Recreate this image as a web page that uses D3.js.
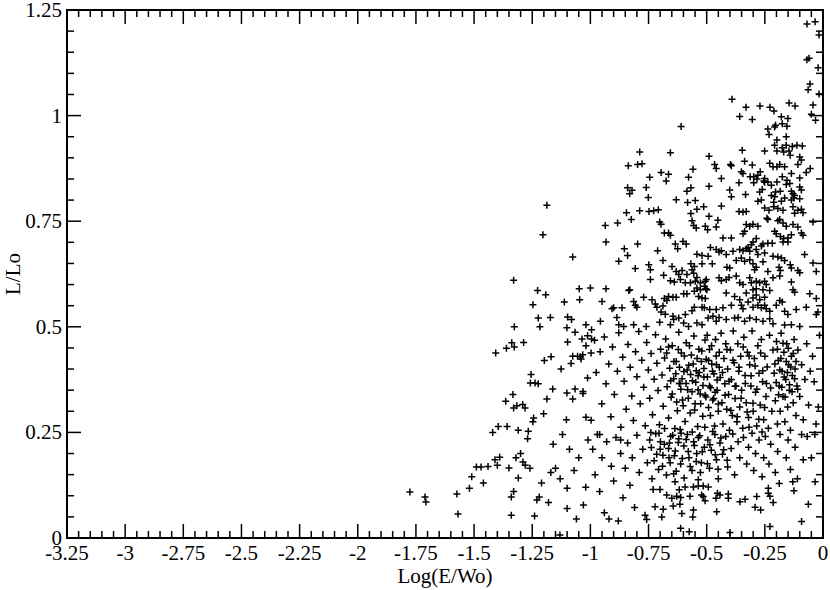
<!DOCTYPE html>
<html>
<head>
<meta charset="utf-8">
<script src="https://cdn.jsdelivr.net/npm/d3@7"></script>
<style>
  body { margin: 0; background: #fff; }
  svg { display: block; }
  text { font-family: "Liberation Serif", "Times New Roman", serif; fill: #000; }
</style>
</head>
<body>
<div id="chart"></div>
<script>
// x: Log(E/Wo), y: L/Lo, grouped by area
var topRight = [[-0.069,1.217],[-0.034,1.222],[-0.017,1.191],[-0.060,1.136],[-0.069,1.132],[-0.021,1.113],[-0.056,1.075],[-0.064,1.061],[-0.017,1.051],[-0.391,1.039],[-0.331,1.020],[-0.271,1.023],[-0.228,1.020],[-0.211,1.011],[-0.146,1.030],[-0.120,1.023],[-0.043,1.025]];

var upperMid = [[-0.610,0.974],[-0.788,0.914],[-0.656,0.912],[-0.837,0.881],[-0.797,0.884],[-0.778,0.886],[-0.559,0.873],[-0.696,0.865],[-0.664,0.861],[-0.745,0.854],[-0.578,0.854],[-0.674,0.845],[-0.840,0.829],[-0.821,0.823],[-0.831,0.815],[-0.760,0.830],[-0.568,0.829],[-0.585,0.821],[-0.751,0.806],[-0.631,0.801],[-0.582,0.794],[-0.549,0.799],[-0.845,0.770],[-0.788,0.775],[-0.748,0.773],[-0.728,0.775],[-0.708,0.777],[-0.824,0.754],[-0.542,0.778],[-0.513,0.784],[-0.568,0.768],[-1.187,0.788]];

var upperRight = [[-0.358,0.998],[-0.304,0.991],[-0.179,0.997],[-0.151,0.993],[-0.050,1.003],[-0.032,0.989],[-0.204,0.977],[-0.175,0.981],[-0.208,0.973],[-0.155,0.975],[-0.237,0.968],[-0.232,0.955],[-0.158,0.950],[-0.198,0.942],[-0.208,0.930],[-0.175,0.924],[-0.158,0.930],[-0.132,0.927],[-0.112,0.930],[-0.089,0.928],[-0.251,0.916],[-0.347,0.918],[-0.198,0.916],[-0.169,0.914],[-0.146,0.916],[-0.141,0.906],[-0.490,0.904],[-0.100,0.902],[-0.466,0.884],[-0.459,0.875],[-0.398,0.884],[-0.394,0.881],[-0.337,0.892],[-0.304,0.883],[-0.229,0.887],[-0.215,0.879],[-0.198,0.879],[-0.165,0.879],[-0.186,0.884],[-0.108,0.884],[-0.093,0.895],[-0.055,0.875],[-0.072,0.865],[-0.351,0.867],[-0.344,0.863],[-0.313,0.855],[-0.298,0.855],[-0.280,0.859],[-0.284,0.850],[-0.270,0.867],[-0.251,0.851],[-0.251,0.842],[-0.237,0.843],[-0.198,0.843],[-0.175,0.855],[-0.155,0.847],[-0.136,0.863],[-0.100,0.852],[-0.437,0.851],[-0.490,0.833],[-0.361,0.841],[-0.298,0.841],[-0.254,0.845],[-0.222,0.835],[-0.401,0.824],[-0.394,0.808],[-0.333,0.813],[-0.272,0.819],[-0.261,0.825],[-0.222,0.811],[-0.208,0.808],[-0.204,0.819],[-0.184,0.821],[-0.158,0.837],[-0.143,0.839],[-0.136,0.821],[-0.129,0.815],[-0.122,0.811],[-0.100,0.831],[-0.093,0.824],[-0.280,0.797],[-0.265,0.800],[-0.212,0.795],[-0.179,0.797],[-0.165,0.805],[-0.136,0.800],[-0.126,0.805],[-0.100,0.803],[-0.437,0.786],[-0.361,0.773],[-0.344,0.772],[-0.330,0.773],[-0.251,0.781],[-0.232,0.776],[-0.212,0.784],[-0.194,0.780],[-0.172,0.776],[-0.129,0.784],[-0.108,0.776],[-0.093,0.778],[-0.086,0.770],[-0.122,0.769],[-0.490,0.762],[-0.452,0.752],[-0.241,0.757],[-0.186,0.754]];

var midLeft = [[-1.204,0.718],[-1.076,0.665],[-1.330,0.610],[-1.227,0.586],[-1.192,0.576],[-1.048,0.590],[-1.000,0.592],[-1.247,0.552],[-1.112,0.559],[-1.046,0.564],[-1.224,0.521],[-1.172,0.522],[-1.098,0.523],[-1.081,0.517],[-1.019,0.505]];

var midCentre = [[-0.936,0.740],[-0.883,0.746],[-0.702,0.748],[-0.696,0.743],[-0.563,0.751],[-0.556,0.740],[-0.545,0.734],[-0.506,0.738],[-0.496,0.730],[-0.682,0.722],[-0.664,0.722],[-0.656,0.717],[-0.933,0.701],[-0.797,0.696],[-0.635,0.696],[-0.602,0.702],[-0.588,0.696],[-0.625,0.685],[-0.854,0.685],[-0.840,0.669],[-0.711,0.680],[-0.542,0.672],[-0.520,0.669],[-0.878,0.655],[-0.807,0.638],[-0.749,0.647],[-0.742,0.635],[-0.688,0.657],[-0.649,0.643],[-0.568,0.649],[-0.553,0.643],[-0.520,0.649],[-0.563,0.635],[-0.631,0.631],[-0.606,0.633],[-0.620,0.624],[-0.585,0.624],[-0.556,0.627],[-0.542,0.617],[-0.656,0.609],[-0.742,0.612],[-0.685,0.622],[-0.639,0.606],[-0.613,0.612],[-0.592,0.604],[-0.570,0.604],[-0.549,0.608],[-0.527,0.604],[-0.506,0.608],[-0.933,0.590],[-0.831,0.588],[-0.835,0.586],[-0.542,0.592],[-0.527,0.588],[-0.510,0.596],[-0.499,0.588],[-0.631,0.570],[-0.599,0.578],[-0.585,0.578],[-0.553,0.584],[-0.535,0.572],[-0.520,0.568],[-0.506,0.567],[-0.771,0.570],[-0.735,0.564],[-0.682,0.567],[-0.664,0.572],[-0.671,0.562],[-0.645,0.570],[-0.814,0.560],[-0.807,0.551],[-0.800,0.546],[-0.721,0.554],[-0.714,0.546],[-0.688,0.549],[-0.950,0.560],[-0.907,0.543],[-0.900,0.545],[-0.864,0.545],[-0.696,0.535],[-0.678,0.530],[-0.645,0.525],[-0.620,0.521],[-0.592,0.529],[-0.553,0.546],[-0.520,0.546],[-0.510,0.545],[-0.563,0.538],[-0.886,0.522],[-0.878,0.505],[-0.957,0.513],[-0.857,0.501],[-0.814,0.505],[-0.760,0.501],[-0.702,0.511],[-0.656,0.505],[-0.599,0.509],[-0.578,0.501],[-0.542,0.509],[-0.520,0.505],[-0.642,0.517]];

var midRight = [[-0.459,0.736],[-0.330,0.742],[-0.315,0.738],[-0.301,0.743],[-0.280,0.738],[-0.337,0.726],[-0.344,0.720],[-0.237,0.754],[-0.194,0.751],[-0.172,0.746],[-0.158,0.738],[-0.129,0.742],[-0.108,0.736],[-0.093,0.722],[-0.086,0.717],[-0.043,0.748],[-0.208,0.726],[-0.201,0.720],[-0.183,0.714],[-0.169,0.709],[-0.151,0.710],[-0.136,0.718],[-0.151,0.701],[-0.172,0.701],[-0.218,0.698],[-0.237,0.698],[-0.258,0.696],[-0.287,0.709],[-0.301,0.701],[-0.308,0.694],[-0.322,0.688],[-0.430,0.710],[-0.394,0.710],[-0.484,0.688],[-0.459,0.683],[-0.437,0.680],[-0.447,0.677],[-0.416,0.671],[-0.387,0.679],[-0.358,0.683],[-0.344,0.680],[-0.330,0.685],[-0.315,0.679],[-0.287,0.683],[-0.265,0.691],[-0.251,0.675],[-0.280,0.671],[-0.494,0.667],[-0.476,0.649],[-0.413,0.641],[-0.401,0.639],[-0.373,0.657],[-0.351,0.663],[-0.337,0.655],[-0.315,0.659],[-0.301,0.649],[-0.287,0.641],[-0.258,0.654],[-0.215,0.667],[-0.194,0.665],[-0.179,0.663],[-0.165,0.657],[-0.189,0.641],[-0.183,0.633],[-0.141,0.647],[-0.136,0.639],[-0.108,0.633],[-0.100,0.628],[-0.043,0.651],[-0.029,0.631],[-0.079,0.671],[-0.237,0.631],[-0.294,0.635],[-0.502,0.612],[-0.447,0.616],[-0.437,0.609],[-0.416,0.612],[-0.404,0.617],[-0.373,0.620],[-0.358,0.604],[-0.344,0.600],[-0.315,0.616],[-0.308,0.604],[-0.287,0.608],[-0.272,0.604],[-0.251,0.608],[-0.244,0.600],[-0.215,0.616],[-0.186,0.620],[-0.136,0.606],[-0.301,0.588],[-0.287,0.590],[-0.258,0.588],[-0.504,0.590],[-0.416,0.580],[-0.380,0.572],[-0.358,0.564],[-0.330,0.580],[-0.322,0.559],[-0.301,0.568],[-0.287,0.575],[-0.272,0.564],[-0.251,0.570],[-0.229,0.586],[-0.186,0.562],[-0.175,0.559],[-0.129,0.588],[-0.122,0.582],[-0.057,0.578],[-0.029,0.567],[-0.394,0.551],[-0.487,0.541],[-0.459,0.541],[-0.430,0.545],[-0.351,0.551],[-0.344,0.543],[-0.301,0.546],[-0.280,0.551],[-0.265,0.545],[-0.251,0.551],[-0.244,0.543],[-0.229,0.537],[-0.201,0.551],[-0.165,0.537],[-0.151,0.529],[-0.115,0.541],[-0.072,0.546],[-0.029,0.529],[-0.022,0.535],[-0.494,0.521],[-0.473,0.525],[-0.447,0.522],[-0.459,0.513],[-0.416,0.517],[-0.380,0.521],[-0.365,0.522],[-0.337,0.513],[-0.315,0.521],[-0.287,0.517],[-0.258,0.513],[-0.229,0.519],[-0.215,0.507],[-0.165,0.504],[-0.100,0.501],[-0.136,0.505]];

var lowLeft = [[-1.327,0.500],[-1.217,0.500],[-1.101,0.498],[-1.066,0.487],[-0.995,0.493],[-1.012,0.479],[-1.036,0.471],[-0.995,0.471],[-1.098,0.464],[-1.019,0.455],[-0.997,0.438],[-1.338,0.462],[-1.327,0.452],[-1.361,0.449],[-1.287,0.463],[-1.407,0.438],[-1.198,0.420],[-1.169,0.429],[-1.076,0.430],[-1.055,0.430],[-1.043,0.429],[-1.033,0.434],[-1.040,0.424],[-1.083,0.413],[-1.126,0.400],[-1.255,0.387],[-1.258,0.367],[-1.238,0.367],[-1.224,0.365],[-1.012,0.379],[-1.162,0.353],[-1.101,0.343],[-1.066,0.353],[-1.032,0.347],[-1.032,0.342],[-1.076,0.329],[-1.333,0.340],[-1.364,0.324],[-1.187,0.329],[-1.330,0.308],[-1.316,0.313],[-1.291,0.316],[-1.281,0.308],[-1.201,0.294],[-1.244,0.284],[-1.247,0.275],[-1.103,0.280],[-1.019,0.286],[-0.997,0.279],[-1.396,0.264],[-1.358,0.264],[-1.310,0.255],[-1.267,0.253]];

var lowCentre = [[-0.982,0.468],[-0.975,0.392],[-0.958,0.441],[-0.951,0.318],[-0.940,0.476],[-0.933,0.365],[-0.921,0.412],[-0.912,0.287],[-0.905,0.452],[-0.897,0.340],[-0.884,0.395],[-0.878,0.486],[-0.869,0.262],[-0.861,0.428],[-0.855,0.371],[-0.846,0.305],[-0.838,0.458],[-0.829,0.404],[-0.822,0.336],[-0.815,0.278],[-0.806,0.441],[-0.800,0.382],[-0.792,0.489],[-0.786,0.318],[-0.779,0.421],[-0.771,0.357],[-0.764,0.266],[-0.758,0.463],[-0.751,0.398],[-0.745,0.331],[-0.739,0.437],[-0.733,0.292],[-0.726,0.376],[-0.720,0.481],[-0.714,0.414],[-0.709,0.349],[-0.703,0.268],[-0.698,0.447],[-0.692,0.386],[-0.687,0.312],[-0.681,0.426],[-0.676,0.471],[-0.670,0.358],[-0.664,0.284],[-0.659,0.402],[-0.653,0.333],[-0.648,0.455],[-0.642,0.377],[-0.637,0.259],[-0.631,0.418],[-0.626,0.301],[-0.620,0.487],[-0.615,0.366],[-0.609,0.438],[-0.604,0.327],[-0.598,0.394],[-0.593,0.276],[-0.588,0.462],[-0.582,0.351],[-0.577,0.409],[-0.571,0.296],[-0.566,0.433],[-0.561,0.372],[-0.555,0.478],[-0.550,0.318],[-0.545,0.396],[-0.539,0.264],[-0.534,0.447],[-0.528,0.341],[-0.523,0.418],[-0.517,0.288],[-0.512,0.381],[-0.507,0.469],[-0.503,0.334]];

var lowRight = [[-0.498,0.48],[-0.492,0.42],[-0.488,0.36],[-0.484,0.29],[-0.479,0.455],[-0.475,0.395],[-0.47,0.33],[-0.466,0.265],[-0.462,0.47],[-0.458,0.41],[-0.455,0.35],[-0.45,0.3],[-0.446,0.44],[-0.442,0.38],[-0.438,0.485],[-0.434,0.32],[-0.43,0.27],[-0.426,0.425],[-0.422,0.365],[-0.418,0.46],[-0.414,0.305],[-0.41,0.4],[-0.406,0.34],[-0.402,0.255],[-0.398,0.445],[-0.394,0.375],[-0.39,0.29],[-0.386,0.49],[-0.382,0.415],[-0.378,0.33],[-0.374,0.36],[-0.37,0.275],[-0.366,0.46],[-0.362,0.395],[-0.358,0.31],[-0.354,0.43],[-0.35,0.35],[-0.345,0.26],[-0.34,0.475],[-0.335,0.385],[-0.33,0.32],[-0.325,0.44],[-0.32,0.285],[-0.315,0.41],[-0.31,0.36],[-0.305,0.49],[-0.3,0.3],[-0.295,0.425],[-0.29,0.345],[-0.285,0.265],[-0.28,0.455],[-0.275,0.39],[-0.27,0.315],[-0.265,0.47],[-0.26,0.37],[-0.255,0.28],[-0.25,0.43],[-0.245,0.335],[-0.24,0.405],[-0.235,0.26],[-0.23,0.48],[-0.225,0.355],[-0.22,0.3],[-0.215,0.445],[-0.21,0.39],[-0.205,0.325],[-0.2,0.465],[-0.196,0.27],[-0.192,0.42],[-0.188,0.36],[-0.184,0.3],[-0.18,0.485],[-0.176,0.395],[-0.172,0.335],[-0.168,0.44],[-0.164,0.275],[-0.16,0.375],[-0.156,0.46],[-0.152,0.31],[-0.148,0.41],[-0.144,0.35],[-0.14,0.255],[-0.136,0.43],[-0.132,0.385],[-0.128,0.32],[-0.124,0.47],[-0.12,0.4],[-0.116,0.29],[-0.112,0.36],[-0.108,0.445],[-0.1,0.335],[-0.092,0.41],[-0.085,0.28],[-0.078,0.375],[-0.07,0.46],[-0.062,0.315],[-0.055,0.395],[-0.045,0.43],[-0.038,0.37],[-0.03,0.27],[-0.02,0.31],[-0.015,0.48]];

// the dense core below 0.5
var coreA = [[-0.672,0.438],[-0.664,0.452],[-0.655,0.372],[-0.648,0.341],[-0.641,0.418],[-0.633,0.389],[-0.629,0.322],[-0.622,0.446],[-0.617,0.404],[-0.611,0.352],[-0.606,0.377],[-0.601,0.313],[-0.596,0.431],[-0.589,0.366],[-0.584,0.398],[-0.579,0.331],[-0.574,0.455],[-0.569,0.387],[-0.563,0.346],[-0.558,0.412],[-0.552,0.303],[-0.547,0.369],[-0.541,0.425],[-0.537,0.351],[-0.532,0.392],[-0.526,0.318],[-0.521,0.443],[-0.516,0.361],[-0.512,0.401],[-0.507,0.338],[-0.502,0.423],[-0.497,0.381],[-0.492,0.309],[-0.488,0.446],[-0.483,0.356],[-0.478,0.412],[-0.474,0.327],[-0.469,0.389],[-0.464,0.345],[-0.459,0.431],[-0.455,0.374],[-0.450,0.317],[-0.446,0.404],[-0.618,0.366],[-0.537,0.384]];

var coreB = [[-0.738,0.214],[-0.726,0.183],[-0.719,0.247],[-0.707,0.162],[-0.699,0.228],[-0.688,0.196],[-0.681,0.259],[-0.673,0.149],[-0.664,0.212],[-0.657,0.178],[-0.646,0.243],[-0.639,0.195],[-0.631,0.158],[-0.622,0.226],[-0.614,0.257],[-0.605,0.188],[-0.597,0.142],[-0.588,0.233],[-0.579,0.205],[-0.571,0.169],[-0.562,0.251],[-0.553,0.219],[-0.545,0.181],[-0.536,0.238],[-0.527,0.155],[-0.519,0.204],[-0.508,0.262],[-0.497,0.176],[-0.486,0.221],[-0.474,0.252],[-0.463,0.197],[-0.451,0.163],[-0.439,0.237],[-0.427,0.209],[-0.412,0.184]];

var coreC = [[-0.207,0.412],[-0.201,0.368],[-0.196,0.447],[-0.191,0.339],[-0.186,0.398],[-0.181,0.425],[-0.177,0.357],[-0.172,0.461],[-0.167,0.381],[-0.163,0.334],[-0.158,0.418],[-0.153,0.392],[-0.149,0.449],[-0.144,0.363],[-0.139,0.405],[-0.133,0.346],[-0.128,0.437],[-0.122,0.377],[-0.116,0.418],[-0.109,0.352]];

var coreD = [[-0.432,0.392],[-0.421,0.338],[-0.413,0.446],[-0.404,0.371],[-0.396,0.302],[-0.387,0.421],[-0.378,0.359],[-0.369,0.287],[-0.361,0.404],[-0.352,0.331],[-0.343,0.452],[-0.334,0.366],[-0.326,0.298],[-0.318,0.431],[-0.309,0.384],[-0.301,0.319],[-0.292,0.407],[-0.284,0.352],[-0.276,0.281],[-0.268,0.438],[-0.259,0.396],[-0.251,0.309],[-0.243,0.366],[-0.262,0.251],[-0.318,0.262]];

var bottomLeft = [[-1.776,0.109],[-1.711,0.097],[-1.707,0.085],[-1.574,0.104],[-1.569,0.057],[-1.52,0.118],[-1.49,0.168],[-1.47,0.168],[-1.44,0.169],[-1.46,0.13],[-1.51,0.145],[-1.41,0.185],[-1.39,0.191],[-1.40,0.172],[-1.35,0.166],[-1.34,0.097],[-1.34,0.054],[-1.33,0.11],[-1.31,0.142],[-1.32,0.19],[-1.29,0.18],[-1.28,0.172],[-1.30,0.20],[-1.26,0.165],[-1.24,0.052],[-1.23,0.09],[-1.22,0.097],[-1.21,0.13],[-1.18,0.084],[-1.17,0.155],[-1.15,0.165],[-1.16,0.222],[-1.13,0.14],[-1.12,0.245],[-1.10,0.118],[-1.09,0.21],[-1.07,0.16],[-1.06,0.045],[-1.05,0.19],[-1.03,0.078],[-1.02,0.12],[-1.01,0.232],[-1.131,0.007],[-1.27,0.235],[-1.42,0.25],[-1.10,0.07]];

var bottomCentre = [[-0.99,0.21],[-0.98,0.15],[-0.97,0.245],[-0.96,0.11],[-0.95,0.19],[-0.94,0.06],[-0.93,0.228],[-0.92,0.045],[-0.91,0.17],[-0.90,0.135],[-0.89,0.238],[-0.88,0.04],[-0.87,0.2],[-0.86,0.095],[-0.85,0.165],[-0.84,0.225],[-0.83,0.125],[-0.82,0.19],[-0.81,0.072],[-0.80,0.243],[-0.79,0.155],[-0.775,0.21],[-0.755,0.178],[-0.745,0.232],[-0.735,0.14],[-0.715,0.198],[-0.705,0.248],[-0.69,0.17],[-0.682,0.222],[-0.662,0.19],[-0.655,0.24],[-0.642,0.152],[-0.635,0.206],[-0.62,0.235],[-0.612,0.175],[-0.598,0.218],[-0.583,0.245],[-0.576,0.19],[-0.563,0.16],[-0.556,0.228],[-0.543,0.2],[-0.536,0.138],[-0.53,0.242],[-0.523,0.178],[-0.51,0.215],[-0.96,0.245],[-0.87,0.232],[-0.74,0.25],[-0.70,0.21],[-0.66,0.225],[-0.61,0.248]];

var bottomRight = [[-0.495,0.232],[-0.488,0.165],[-0.48,0.208],[-0.465,0.245],[-0.458,0.185],[-0.45,0.14],[-0.443,0.225],[-0.432,0.198],[-0.418,0.24],[-0.41,0.168],[-0.395,0.212],[-0.388,0.246],[-0.38,0.15],[-0.365,0.228],[-0.358,0.19],[-0.342,0.238],[-0.328,0.175],[-0.32,0.215],[-0.305,0.248],[-0.298,0.16],[-0.29,0.2],[-0.275,0.232],[-0.262,0.145],[-0.255,0.19],[-0.248,0.24],[-0.232,0.175],[-0.225,0.222],[-0.205,0.155],[-0.195,0.205],[-0.185,0.245],[-0.158,0.19],[-0.15,0.232],[-0.14,0.162],[-0.12,0.215],[-0.11,0.14],[-0.092,0.245],[-0.085,0.185],[-0.068,0.24],[-0.05,0.19],[-0.035,0.245]];

// strip just above the x axis, right of -0.78
var bottomStrip = [[-0.730,0.115],[-0.701,0.115],[-0.636,0.133],[-0.618,0.114],[-0.593,0.121],[-0.557,0.121],[-0.536,0.123],[-0.515,0.123],[-0.493,0.121],[-0.672,0.102],[-0.650,0.094],[-0.629,0.099],[-0.612,0.096],[-0.572,0.099],[-0.522,0.102],[-0.515,0.098],[-0.507,0.088],[-0.454,0.106],[-0.443,0.102],[-0.460,0.094],[-0.407,0.104],[-0.407,0.094],[-0.357,0.086],[-0.335,0.092],[-0.285,0.098],[-0.235,0.118],[-0.235,0.106],[-0.228,0.099],[-0.214,0.084],[-0.188,0.129],[-0.125,0.112],[-0.130,0.133],[-0.292,0.073],[-0.268,0.066],[-0.063,0.080],[-0.092,0.039],[-0.228,0.027],[-0.400,0.013],[-0.612,0.023],[-0.575,0.015],[-0.722,0.074],[-0.687,0.068],[-0.644,0.076],[-0.615,0.080],[-0.607,0.058],[-0.557,0.066],[-0.560,0.050],[-0.693,0.050],[-0.765,0.054],[-0.758,0.044],[-0.457,0.062],[-0.034,0.133]];

var points = [].concat(topRight, upperMid, upperRight, midLeft, midCentre, midRight,
    lowLeft, lowCentre, lowRight, coreA, coreB, coreC, coreD,
    bottomLeft, bottomCentre, bottomRight, bottomStrip);

var xMajor = d3.range(0, 14).map(function (i) { return -3.25 + i * 0.25; });
var xMinor = d3.range(0, 66).map(function (i) { return -3.25 + i * 0.05; });
var yMajor = d3.range(0, 6).map(function (i) { return i * 0.25; });
var yMinor = d3.range(0, 26).map(function (i) { return i * 0.05; });

var width = 830, height = 590;
var margin = { left: 67, right: 7, top: 10, bottom: 52 };

var svg = d3.select("#chart").append("svg")
    .attr("width", width)
    .attr("height", height);

svg.append("rect").attr("width", width).attr("height", height).attr("fill", "#fff");

var x = d3.scaleLinear().domain([-3.25, 0]).range([margin.left, width - margin.right]);
var y = d3.scaleLinear().domain([0, 1.25]).range([height - margin.bottom, margin.top]);

var fmt = function (v) { return String(+v.toFixed(2)); };
var isMajor = function (v) { return Math.abs(v / 0.25 - Math.round(v / 0.25)) < 1e-6; };

var ticks = svg.append("g").attr("stroke", "#000").attr("stroke-width", 1.5);

// bottom and top ticks, pointing inward
xMinor.forEach(function (v) {
    var len = isMajor(v) ? 14 : 7;
    ticks.append("line").attr("x1", x(v)).attr("x2", x(v))
        .attr("y1", y(0)).attr("y2", y(0) - len);
    ticks.append("line").attr("x1", x(v)).attr("x2", x(v))
        .attr("y1", y(1.25)).attr("y2", y(1.25) + len);
});
// left and right ticks
yMinor.forEach(function (v) {
    var len = isMajor(v) ? 14 : 7;
    ticks.append("line").attr("y1", y(v)).attr("y2", y(v))
        .attr("x1", x(-3.25)).attr("x2", x(-3.25) + len);
    ticks.append("line").attr("y1", y(v)).attr("y2", y(v))
        .attr("x1", x(0)).attr("x2", x(0) - len);
});

svg.append("rect")
    .attr("x", x(-3.25)).attr("y", y(1.25))
    .attr("width", x(0) - x(-3.25)).attr("height", y(0) - y(1.25))
    .attr("fill", "none").attr("stroke", "#000").attr("stroke-width", 2);

svg.append("g").selectAll("text")
    .data(xMajor)
    .enter().append("text")
    .attr("x", function (d) { return x(d); })
    .attr("y", y(0) + 22)
    .attr("text-anchor", "middle")
    .attr("font-size", 21)
    .text(fmt);

svg.append("g").selectAll("text")
    .data(yMajor)
    .enter().append("text")
    .attr("x", x(-3.25) - 5)
    .attr("y", function (d) { return y(d) + 7; })
    .attr("text-anchor", "end")
    .attr("font-size", 21)
    .text(fmt);

svg.append("text")
    .attr("x", (x(-3.25) + x(0)) / 2)
    .attr("y", 583)
    .attr("text-anchor", "middle")
    .attr("font-size", 21)
    .text("Log(E/Wo)");

svg.append("text")
    .attr("transform", "translate(20," + (y(0) + y(1.25)) / 2 + ") rotate(-90)")
    .attr("text-anchor", "middle")
    .attr("font-size", 21)
    .text("L/Lo");

svg.append("g")
    .attr("stroke", "#000")
    .attr("stroke-width", 1.5)
    .attr("fill", "none")
    .selectAll("path")
    .data(points)
    .enter().append("path")
    .attr("d", function (d) {
        var px = x(d[0]), py = y(d[1]);
        return "M" + (px - 3.5) + "," + py + "H" + (px + 3.5) + "M" + px + "," + (py - 3.5) + "V" + (py + 3.5);
    });
</script>
</body>
</html>
